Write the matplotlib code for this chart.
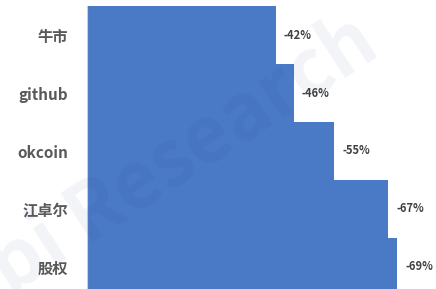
import matplotlib
matplotlib.use('Agg')
import matplotlib.pyplot as plt

plt.rcParams['font.family'] = ['Noto Sans CJK SC', 'DejaVu Sans']

# data (top to bottom)
categories = ['牛市', 'github', 'okcoin', '江卓尔', '股权']
changes = [-42, -46, -55, -67, -69]
value_labels = ['-42%', '-46%', '-55%', '-67%', '-69%']

fig = plt.figure(figsize=(4.36, 2.89), dpi=100)
ax = fig.add_axes([87 / 436, 0, 349 / 436, 283 / 289])

pos = list(range(len(categories)))
bars = ax.barh(pos, changes, height=1.0, color='#4a79c6', edgecolor='none')

ax.set_xlim(0, -77.7)
ax.set_ylim(-0.5 + 283 / 58, -0.5)

ax.set_yticks(pos)
ax.set_yticklabels(categories, fontsize=11, fontweight='bold', color='#595959')
ax.tick_params(axis='y', length=0, pad=13.5)
ax.set_xticks([])

for b, lab in zip(bars, value_labels):
    ax.annotate(lab, (b.get_width(), b.get_y() + b.get_height() / 2),
                xytext=(6, 0), textcoords='offset points',
                ha='left', va='center', fontsize=8, fontweight='bold',
                color='#404040')

for s in ['top', 'right', 'bottom']:
    ax.spines[s].set_visible(False)
ax.spines['left'].set_color('#d0d0d0')
ax.spines['left'].set_linewidth(0.8)

# faint watermark
fig.text(0.271, 0.315, 'Huobi Research', fontsize=56, fontweight='bold',
         color='#1f3b73', alpha=0.06, rotation=33,
         ha='center', va='center', rotation_mode='anchor', zorder=10)

fig.savefig('out.png', dpi=100)
